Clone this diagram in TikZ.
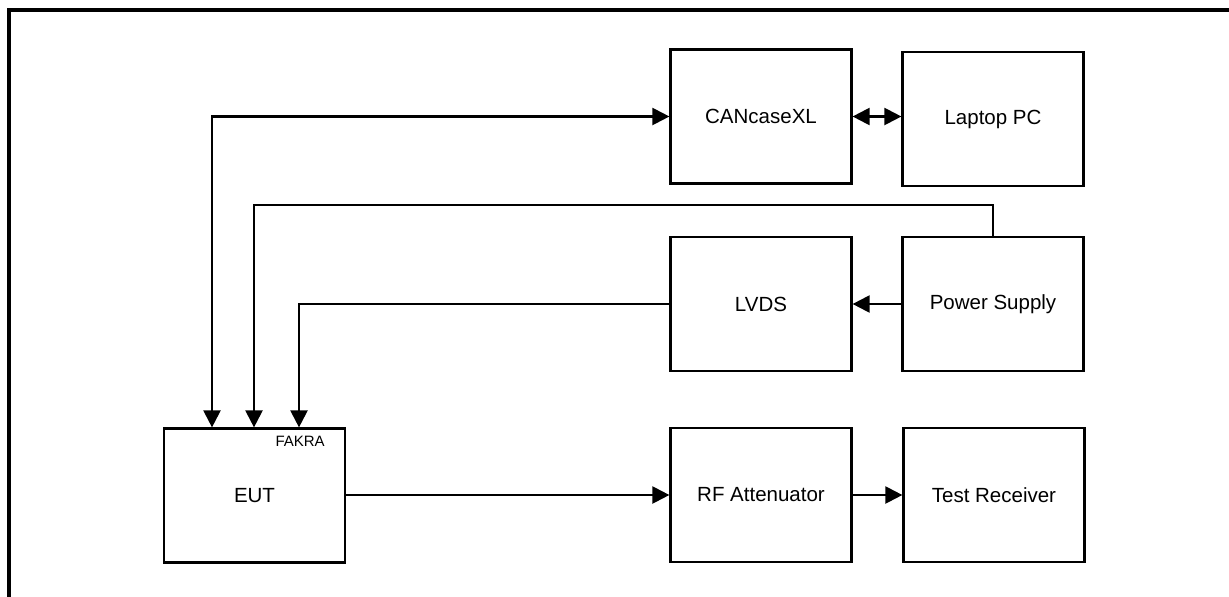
\documentclass[tikz,border=0pt]{standalone}
\usepackage{fontspec}
\setmainfont{Liberation Sans}
\usetikzlibrary{arrows.meta,calc}
\begin{document}
\begin{tikzpicture}[x=1pt,y=-1pt,
  box/.style={draw, line width=2.2pt, minimum width=181pt, minimum height=134pt, inner sep=0pt,
    font=\fontsize{20.5}{23}\selectfont},
  wire/.style={line width=2.2pt},
  tip/.style={-{Triangle[length=17pt,width=17pt]}},
  tips/.style={{Triangle[length=17pt,width=17pt]}-{Triangle[length=17pt,width=17pt]}}]
\useasboundingbox (0,0) rectangle (1229,597);
% frame
\draw[line width=4pt] (8.5,600) -- (8.5,9.5) -- (1232,9.5);
% boxes
\node[box] (can) at (761,116.5) {CANcaseXL};
\node[box] (lap) at (993,119) {Laptop PC};
\node[box] (lvds) at (761,304) {LVDS};
\node[box] (ps) at (993,304) {Power Supply};
\node[box] (eut) at (254.5,495.5) {EUT};
\node[box] (rf) at (761,495) {RF Attenuator};
\node[box] (tr) at (994,495) {Test Receiver};
\node[font=\fontsize{15}{17}\selectfont] (fakra) at ($(eut.north east)+(-46,14)$) {FAKRA};
% connectors
\coordinate (c1) at (212,0);
\coordinate (c2) at (254,205);
\coordinate (c3) at (299,0);
\draw[wire,tips] (c1 |- eut.north) -- (c1 |- can.west) -- (can.west);
\draw[wire,tip] (ps.north) -- (ps.north |- c2) -- (c2) -- (c2 |- eut.north);
\draw[wire,tip] (lvds.west) -- (c3 |- lvds.west) -- (c3 |- eut.north);
\draw[wire,tip] (ps.west |- lvds.east) -- (lvds.east);
\draw[wire,tips] (can.east) -- (can.east -| lap.west);
\draw[wire,tip] (eut.east |- rf.west) -- (rf.west);
\draw[wire,tip] (rf.east) -- (tr.west);
\end{tikzpicture}
\end{document}
